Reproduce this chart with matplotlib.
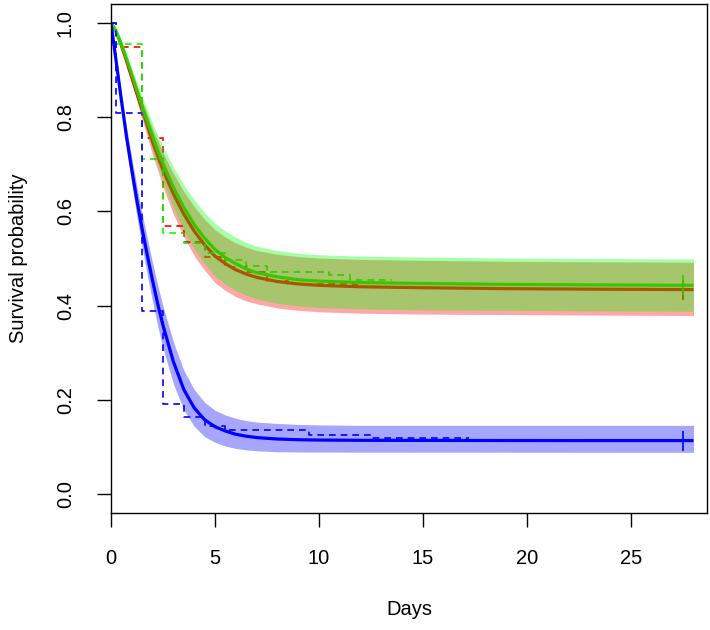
#!/usr/bin/env python3
# coding=utf-8
"""
Survival curves: Kaplan-Meier steps (dashed) with fitted cure-model curves
and their confidence bands for three groups.
"""
import matplotlib
matplotlib.use("Agg")
import matplotlib.pyplot as plt

# --- Kaplan-Meier estimates (step functions) ---
km_red_t = [0, 0.25, 1.5, 2.5, 3.5, 4.5, 5.5, 6.5, 7.5, 8.5, 12.0]
km_red_s = [1.0, 0.948, 0.756, 0.568, 0.535, 0.503, 0.483, 0.471, 0.453, 0.445, 0.445]

km_green_t = [0, 0.25, 1.5, 2.5, 3.5, 4.5, 5.5, 6.5, 7.5, 10.5, 11.5, 13.5]
km_green_s = [1.0, 0.956, 0.711, 0.554, 0.532, 0.511, 0.496, 0.485, 0.472, 0.464, 0.455, 0.455]

km_blue_t = [0, 0.25, 1.5, 2.5, 3.5, 4.5, 5.5, 9.5, 12.5, 17.2]
km_blue_s = [1.0, 0.808, 0.388, 0.192, 0.164, 0.144, 0.136, 0.125, 0.120, 0.120]

# --- fitted curves and confidence bands ---
fit_t = [0, 0.25, 0.5, 0.75, 1, 1.25, 1.5, 1.75, 2, 2.25, 2.5, 3, 3.5, 4,
         4.5, 5, 5.5, 6, 6.5, 7, 8, 9, 10, 12, 15, 19, 23, 28]

red_fit = [1.0, 0.981, 0.952, 0.919, 0.884, 0.850, 0.815, 0.782, 0.747, 0.717,
           0.688, 0.637, 0.594, 0.558, 0.529, 0.505, 0.489, 0.476, 0.467, 0.460,
           0.451, 0.446, 0.443, 0.440, 0.438, 0.436, 0.435, 0.434]
red_hi = [1.0, 0.984, 0.958, 0.928, 0.896, 0.866, 0.835, 0.806, 0.775, 0.751,
          0.724, 0.680, 0.642, 0.610, 0.583, 0.561, 0.545, 0.533, 0.524, 0.517,
          0.509, 0.504, 0.501, 0.498, 0.496, 0.494, 0.493, 0.492]
red_lo = [1.0, 0.978, 0.946, 0.910, 0.872, 0.834, 0.795, 0.758, 0.719, 0.687,
          0.652, 0.594, 0.546, 0.506, 0.475, 0.449, 0.432, 0.419, 0.410, 0.404,
          0.395, 0.390, 0.387, 0.384, 0.382, 0.381, 0.380, 0.379]

green_fit = [1.0, 0.982, 0.955, 0.924, 0.890, 0.857, 0.823, 0.791, 0.759, 0.729,
             0.701, 0.651, 0.608, 0.572, 0.543, 0.519, 0.502, 0.489, 0.478, 0.470,
             0.461, 0.455, 0.452, 0.449, 0.447, 0.445, 0.444, 0.443]
green_hi = [1.0, 0.985, 0.961, 0.933, 0.902, 0.873, 0.843, 0.815, 0.787, 0.761,
            0.737, 0.694, 0.656, 0.624, 0.597, 0.575, 0.558, 0.545, 0.534, 0.526,
            0.517, 0.511, 0.508, 0.505, 0.503, 0.501, 0.500, 0.499]
green_lo = [1.0, 0.979, 0.949, 0.915, 0.878, 0.841, 0.803, 0.767, 0.731, 0.697,
            0.665, 0.608, 0.560, 0.520, 0.489, 0.463, 0.445, 0.432, 0.422, 0.414,
            0.405, 0.399, 0.396, 0.393, 0.391, 0.390, 0.389, 0.388]

blue_fit = [1.0, 0.918, 0.836, 0.757, 0.688, 0.622, 0.562, 0.506, 0.453, 0.403,
            0.358, 0.281, 0.222, 0.183, 0.158, 0.143, 0.134, 0.127, 0.123, 0.120,
            0.117, 0.1155, 0.1148, 0.1142, 0.1140, 0.1138, 0.1137, 0.1137]
blue_hi = [1.0, 0.926, 0.851, 0.778, 0.714, 0.652, 0.595, 0.542, 0.491, 0.443,
           0.399, 0.323, 0.263, 0.222, 0.195, 0.178, 0.168, 0.161, 0.156, 0.153,
           0.150, 0.148, 0.147, 0.146, 0.146, 0.146, 0.146, 0.146]
blue_lo = [1.0, 0.910, 0.820, 0.734, 0.659, 0.588, 0.524, 0.464, 0.408, 0.356,
           0.310, 0.234, 0.179, 0.144, 0.122, 0.110, 0.102, 0.097, 0.094, 0.092,
           0.090, 0.0895, 0.0893, 0.089, 0.089, 0.089, 0.0888, 0.0887]

# censoring marks at the end of follow-up
cens_t = 27.5
cens_s = {"red": 0.434, "green": 0.443, "blue": 0.1137}

x_ticks = [0, 5, 10, 15, 20, 25]
y_ticks = [0.0, 0.2, 0.4, 0.6, 0.8, 1.0]


def main():
    plt.rcParams["font.family"] = ["Liberation Sans", "DejaVu Sans"]

    fig = plt.figure(figsize=(7.1, 6.3), dpi=100)
    ax = fig.add_axes([0.1563, 0.1857, 0.8395, 0.808])

    groups = [
        ("red", "#ff0000", km_red_t, km_red_s, red_fit, red_lo, red_hi),
        ("green", "#00ff00", km_green_t, km_green_s, green_fit, green_lo, green_hi),
        ("blue", "#0000ff", km_blue_t, km_blue_s, blue_fit, blue_lo, blue_hi),
    ]

    for name, col, kt, ks, fit, lo, hi in groups:
        ax.step(kt, ks, where="post", color=col, lw=1.2, dashes=(4, 3), zorder=2)
        ax.plot(fit_t, fit, color=col, lw=2.3, solid_capstyle="butt", zorder=2)
        ax.plot([cens_t], [cens_s[name]], marker="+", ms=14, mew=1.2,
                color=col, ls="none", zorder=2)

    # bands go on top, semi-transparent, like R's polygon() with alpha
    for name, col, kt, ks, fit, lo, hi in groups:
        ax.fill_between(fit_t, lo, hi, color=col, alpha=0.35, lw=0, zorder=3)

    ax.set_xlim(0, 28.65)
    ax.set_ylim(-0.04, 1.04)
    ax.set_xticks(x_ticks)
    ax.set_xticklabels([str(v) for v in x_ticks])
    ax.set_yticks(y_ticks)
    ax.set_yticklabels(["%.1f" % v for v in y_ticks], rotation=90, va="center")
    ax.tick_params(direction="out", length=10, width=1, labelsize=14.5, pad=16)
    for sp in ax.spines.values():
        sp.set_linewidth(1.0)
        sp.set_zorder(4)

    ax.set_xlabel("Days", fontsize=14.5, labelpad=23)
    ax.set_ylabel("Survival probability", fontsize=14.5, labelpad=20)

    fig.savefig("out.png", dpi=100)


if __name__ == '__main__':
    main()
